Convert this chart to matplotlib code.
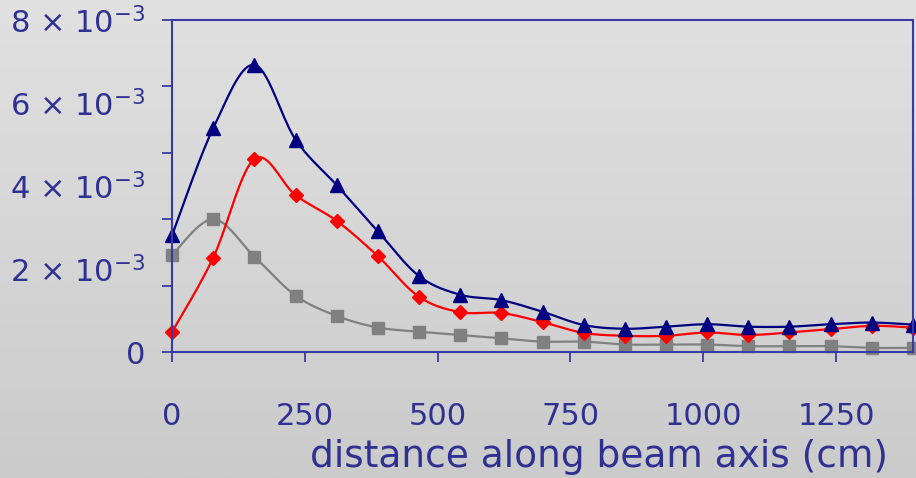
import numpy as np
import matplotlib
matplotlib.use("Agg")
import matplotlib.pyplot as plt
from matplotlib.ticker import FixedLocator, NullFormatter, FixedFormatter

# distance along beam axis (cm)
dist = [0, 77.5, 155, 232.5, 310, 387.5, 465, 542.5, 620, 697.5,
        775, 852.5, 930, 1007.5, 1085, 1162.5, 1240, 1317.5, 1395]

# series values (units of 1e-3)
blue_tri = [2.81, 5.39, 6.92, 5.12, 4.02, 2.91, 1.83, 1.38, 1.25, 0.97,
            0.65, 0.56, 0.61, 0.67, 0.61, 0.61, 0.67, 0.71, 0.66]
red_dia = [0.48, 2.27, 4.65, 3.78, 3.16, 2.31, 1.33, 0.96, 0.94, 0.72,
           0.46, 0.39, 0.39, 0.47, 0.41, 0.47, 0.55, 0.63, 0.59]
gray_sq = [2.34, 3.20, 2.30, 1.36, 0.87, 0.59, 0.49, 0.41, 0.33, 0.25,
           0.25, 0.18, 0.18, 0.18, 0.14, 0.14, 0.14, 0.10, 0.10]

ylabels = ["0", "2 × 10$^{-3}$", "4 × 10$^{-3}$", "6 × 10$^{-3}$", "8 × 10$^{-3}$"]
ylabel_pos = [0, 2e-3, 4e-3, 6e-3, 8e-3]
xticks = [0, 250, 500, 750, 1000, 1250]

TXT = "#2e3192"
AX = "#3a3aa6"


def smooth(x, y, n=20):
    # excel-like smoothed line (bezier through the points)
    x = np.asarray(x, float)
    y = np.asarray(y, float)
    px = np.concatenate([[x[0]], x, [x[-1]]])
    py = np.concatenate([[y[0]], y, [y[-1]]])
    xs, ys = [], []
    t = np.linspace(0, 1, n)
    for i in range(1, len(px) - 2):
        p0 = np.array([px[i], py[i]])
        p3 = np.array([px[i + 1], py[i + 1]])
        p1 = p0 + (np.array([px[i + 1], py[i + 1]]) - np.array([px[i - 1], py[i - 1]])) / 6
        p2 = p3 - (np.array([px[i + 2], py[i + 2]]) - np.array([px[i], py[i]])) / 6
        b = ((1 - t) ** 3)[:, None] * p0 + (3 * (1 - t) ** 2 * t)[:, None] * p1 \
            + (3 * (1 - t) * t ** 2)[:, None] * p2 + (t ** 3)[:, None] * p3
        xs.extend(b[:, 0])
        ys.extend(b[:, 1])
    return np.array(xs), np.array(ys)


fig = plt.figure(figsize=(9.16, 4.78), dpi=100)

# gradient background
bg = fig.add_axes([0, 0, 1, 1], zorder=-10)
grad = np.linspace(0, 1, 256)[:, None]
bg.imshow(grad, aspect="auto", cmap=matplotlib.colors.LinearSegmentedColormap.from_list(
    "g", ["#e1e1e1", "#cbcbcb"]), extent=[0, 1, 0, 1])
bg.axis("off")

ax = fig.add_axes([172 / 916, 126 / 478, 741 / 916, 332 / 478])
ax.set_facecolor("none")

for vals, c, m, ms in [(gray_sq, "#808080", "s", 8),
                       (red_dia, "#ff0000", "D", 7.5),
                       (blue_tri, "#000080", "^", 10.5)]:
    v = np.array(vals) * 1e-3
    sx, sy = smooth(dist, v)
    ax.plot(sx, sy, color=c, lw=1.6, clip_on=False)
    ax.plot(dist, v, linestyle="none", marker=m, ms=ms, color=c, clip_on=False)

ax.set_xlim(0, 1395)
ax.set_ylim(0, 8e-3)

for s in ax.spines.values():
    s.set_color(AX)
    s.set_linewidth(1.5)

ax.set_xticks(xticks)
ax.set_xticklabels([str(v) for v in xticks])
ax.tick_params(axis="x", direction="out", length=7, width=1.3, color=AX,
               labelcolor=TXT, labelsize=22, pad=29)

ax.yaxis.remove_overlapping_locs = False
ax.yaxis.set_major_locator(FixedLocator(np.arange(0, 8.01, 1.6) * 1e-3))
ax.yaxis.set_major_formatter(NullFormatter())
ax.yaxis.set_minor_locator(FixedLocator(ylabel_pos))
ax.yaxis.set_minor_formatter(FixedFormatter(ylabels))
ax.tick_params(axis="y", which="major", direction="out", length=7, width=1.3, color=AX)
ax.tick_params(axis="y", which="minor", length=0, labelsize=22, labelcolor=TXT, pad=19)

ax.set_xlabel("distance along beam axis (cm)", fontsize=27, color=TXT)
ax.xaxis.set_label_coords(0.576, -0.262)

fig.savefig("out.png", dpi=100)
